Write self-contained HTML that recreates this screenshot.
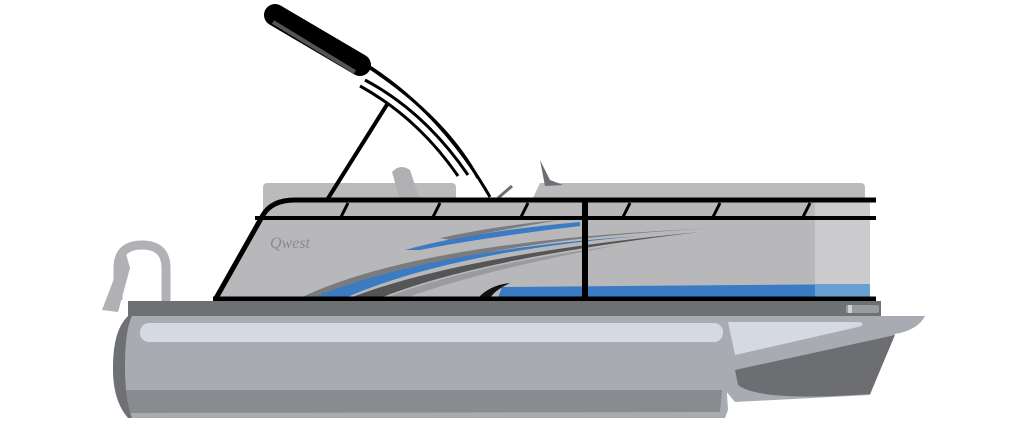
<!DOCTYPE html>
<html><head><style>html,body{margin:0;padding:0;background:#fff;width:1024px;height:422px;overflow:hidden}</style></head>
<body>
<svg width="1024" height="422" viewBox="0 0 1024 422" xmlns="http://www.w3.org/2000/svg">
<!-- bow ladder -->
<path d="M118 300 L118 268 Q118 245 142 245 Q166 245 166 268 L166 302" fill="none" stroke="#b0b1b5" stroke-width="9"/>
<path d="M125 250 L102 310 L118 312 L130 268 Z" fill="#b0b1b5"/>
<!-- seats behind -->
<rect x="263" y="183" width="193" height="30" rx="4" fill="#bbbbbd"/>
<path d="M392 172 Q400 163 410 170 L420 200 L400 200 Z" fill="#b0b0b2"/>
<path d="M532 200 L540 183 L580 183 L580 200 Z" fill="#bbbbbd"/>
<path d="M540 160 L550 180 L563 185 L545 186 Z" fill="#6d6e71"/>
<line x1="498" y1="198" x2="512" y2="186" stroke="#6d6e71" stroke-width="3"/>
<rect x="575" y="183" width="290" height="30" rx="4" fill="#bbbbbd"/>
<!-- fence panel -->
<path d="M215 300 L263 215 Q272 200 295 200 L870 200 L870 300 Z" fill="#b8b8ba"/>
<rect x="815" y="200" width="55" height="100" fill="#cbcbce"/>
<!-- blue band -->
<path d="M498 298 L502 287 L870 284 L870 298 Z" fill="#3a7bc4"/>
<rect x="815" y="284" width="55" height="14" fill="#6a9fd4"/>
<!-- swooshes -->
<path d="M300 298 Q420 240 720 228 Q460 240 330 298 Z" fill="#7a7b7e"/>
<path d="M312 298 Q430 250 640 236 Q450 252 345 298 Z" fill="#3a7bc4"/>
<path d="M350 298 Q460 255 700 232 Q480 258 380 298 Z" fill="#555"/>
<path d="M385 298 Q470 265 620 245 Q490 268 405 298 Z" fill="#9a9b9e"/>
<path d="M405 250 Q470 232 580 222 L580 226 Q480 238 420 250 Z" fill="#3a7bc4"/>
<path d="M440 238 Q500 225 560 220 Q500 230 450 240 Z" fill="#7a7b7e"/>
<path d="M478 298 Q490 285 510 283 Q495 290 490 298 Z" fill="#111"/>
<text x="270" y="248" font-family="Liberation Serif, serif" font-style="italic" font-size="16" fill="#8a8a8c">Qwest</text>
<!-- rails -->
<g stroke="#000" fill="none">
<path d="M215 300 L263 215 Q272 200 295 200 L876 200" stroke-width="5"/>
<line x1="255" y1="218" x2="876" y2="218" stroke-width="4"/>
<line x1="213" y1="299" x2="876" y2="299" stroke-width="5"/>
<line x1="585" y1="200" x2="585" y2="300" stroke-width="6"/>
<g stroke-width="3">
<line x1="348" y1="203" x2="341" y2="217"/><line x1="440" y1="203" x2="433" y2="217"/><line x1="528" y1="203" x2="521" y2="217"/>
<line x1="630" y1="203" x2="623" y2="217"/><line x1="720" y1="203" x2="713" y2="217"/><line x1="810" y1="203" x2="803" y2="217"/>
</g>
<!-- bimini frame -->
<line x1="388" y1="103" x2="327" y2="200" stroke-width="4"/>
<path d="M362 62 Q440 110 490 197" stroke-width="3"/>
<path d="M370 68 Q445 118 478 178" stroke-width="3"/>
<path d="M365 80 Q425 112 468 175" stroke-width="3"/>
<path d="M360 86 Q418 118 458 176" stroke-width="3"/>
</g>
<line x1="275" y1="15" x2="360" y2="65" stroke="#000" stroke-width="22" stroke-linecap="round"/>
<line x1="273" y1="22" x2="355" y2="72" stroke="#555" stroke-width="4"/>
<!-- deck -->
<rect x="128" y="301" width="753" height="15" fill="#6f7073"/>
<rect x="846" y="305" width="33" height="8" rx="2" fill="#9a9b9e"/>
<rect x="848" y="305" width="4" height="8" fill="#d0d0d3"/>
<!-- stern -->
<path d="M720 316 L925 316 Q918 330 895 334 L870 395 L735 402 L725 390 Z" fill="#a9abb3"/>
<path d="M735 370 L895 335 L870 394 Q760 402 738 385 Z" fill="#6d6e71"/>
<path d="M728 322 L860 322 Q866 325 858 327 L735 355 Z" fill="#d5d9e3"/>
<!-- pontoon -->
<path d="M128 316 L722 316 L728 410 L725 418 L128 418 Q112 400 113 367 Q114 330 128 316 Z" fill="#a9abb3"/>
<path d="M118 390 L722 390 L720 412 L130 413 Q118 405 118 390 Z" fill="#8a8b8e"/>
<path d="M128 316 Q113 330 113 367 Q113 400 128 418 L132 418 Q125 400 125 367 Q125 330 132 316 Z" fill="#6f7073"/>
<rect x="140" y="323" width="583" height="19" rx="9" fill="#d5d9e3"/>
</svg>
</body></html>
